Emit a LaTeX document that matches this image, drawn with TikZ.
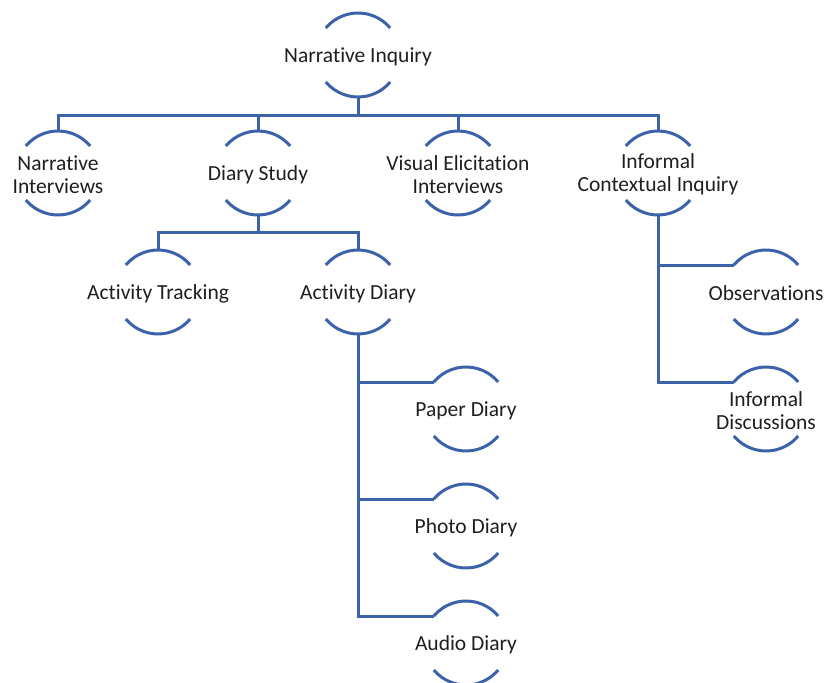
\documentclass[tikz,border=0pt]{standalone}
\usepackage{fontspec}
\setmainfont[Ligatures=NoCommon]{Carlito}
\usetikzlibrary{positioning}
\definecolor{smartblue}{RGB}{60,98,170}

\begin{document}
\begin{tikzpicture}[x=1pt, y=1pt,
      node_circ/.style={circle, draw=none, minimum size=84pt, inner sep=0pt, outer sep=0pt},
      node_txt/.style={align=center, font=\fontsize{21.5}{23}\selectfont, text=black!88, yshift=-1.5pt},
      arc_line/.style={draw=smartblue, line width=3pt},
      edge_path/.style={draw=smartblue, line width=3pt},
      node distance=116pt
    ]
      \useasboundingbox (0,0) rectangle (825,-683);

      % top level and its four children
      \node[node_circ, label={[node_txt]center:Narrative Inquiry}] (NI) at (358,-55) {};
      \node[node_circ, label={[node_txt]center:Narrative\\Interviews}] (NInt) at (58,-173) {};
      \node[node_circ, right=of NInt, label={[node_txt]center:Diary Study}] (DS) {};
      \node[node_circ, right=of DS, label={[node_txt]center:Visual Elicitation\\Interviews}] (VEI) {};
      \node[node_circ, right=of VEI, label={[node_txt]center:Informal\\Contextual Inquiry}] (ICI) {};

      % diary study branch
      \node[node_circ, label={[node_txt]center:Activity Tracking}] (AT) at (158,-292) {};
      \node[node_circ, label={[node_txt]center:Activity Diary}] (AD) at (358,-292) {};
      \node[node_circ, label={[node_txt]center:Paper Diary}] (PD) at (466,-409) {};
      \node[node_circ, label={[node_txt]center:Photo Diary}] (PhD) at (466,-526) {};
      \node[node_circ, label={[node_txt]center:Audio Diary}] (AuD) at (466,-643) {};

      % contextual inquiry branch
      \node[node_circ, label={[node_txt]center:Observations}] (Obs) at (766,-292) {};
      \node[node_circ, label={[node_txt]center:Informal\\Discussions}] (IDisc) at (766,-409) {};

      \foreach \n in {NI, NInt, DS, VEI, ICI, AT, AD, PD, PhD, AuD, Obs, IDisc} {
        \draw[arc_line] (\n.140) arc[start angle=140, end angle=40, radius=42pt];
        \draw[arc_line] (\n.220) arc[start angle=220, end angle=320, radius=42pt];
      }

      \foreach \c in {NInt, DS, VEI, ICI}
        \draw[edge_path] (NI.south) -- ([yshift=-18pt]NI.south) -| (\c.north);
      \foreach \c in {AT, AD}
        \draw[edge_path] (DS.south) -- ([yshift=-17pt]DS.south) -| (\c.north);
      \foreach \c in {PD, PhD, AuD}
        \draw[edge_path] (AD.south) |- (\c.140);
      \foreach \c in {Obs, IDisc}
        \draw[edge_path] (ICI.south) |- (\c.140);
    \end{tikzpicture}
\end{document}
